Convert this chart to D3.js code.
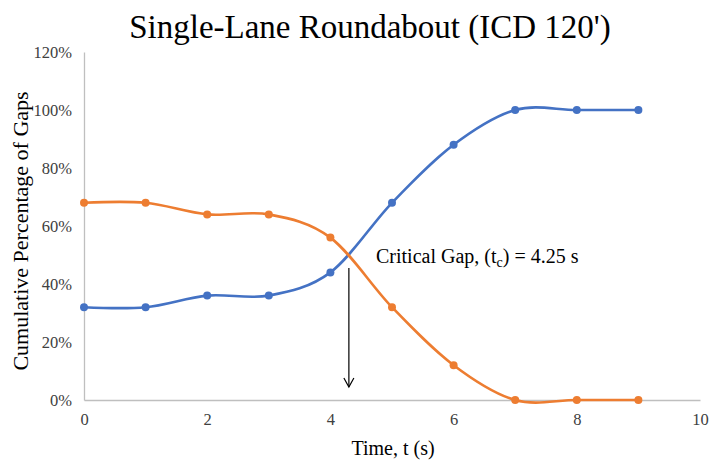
<!DOCTYPE html>
<html><head><meta charset="utf-8">
<script src="https://cdn.jsdelivr.net/npm/d3@7"></script>
<style>body{margin:0;background:#fff}svg{display:block}</style>
</head><body>
<svg id="c" width="711" height="464"></svg>
<script>
const times = [0,1,2,3,4,5,6,7,8,9];
const accepted = [32,32,36,36,44,68,88,100,100,100];
const rejected = [68,68,64,64,56,32,12,0,0,0];
const xTicks = [0,2,4,6,8,10];
const yTicks = [0,20,40,60,80,100,120];
const criticalGap = 4.3;

const svg = d3.select("#c");
const font = "'Liberation Serif','Times New Roman',serif";
const m = {l:84, r:11, t:52, b:64};
const W = 711, H = 464;
const x = d3.scaleLinear().domain([0,10]).range([m.l, W-m.r]);
const y = d3.scaleLinear().domain([0,120]).range([H-m.b, m.t]);

svg.append("text").attr("x",370).attr("y",38).attr("text-anchor","middle")
  .style("font-family",font).style("font-size","33px").attr("fill","#000")
  .text("Single-Lane Roundabout (ICD 120')");

const xa = svg.append("g").attr("transform",`translate(0,${y(0)})`)
  .call(d3.axisBottom(x).tickValues(xTicks).tickSize(0).tickPadding(13).tickFormat(d3.format("d")));
const ya = svg.append("g").attr("transform",`translate(${m.l},0)`)
  .call(d3.axisLeft(y).tickValues(yTicks).tickSize(0).tickPadding(12).tickFormat(d=>d+"%"));
[xa,ya].forEach(a=>{
  a.select(".domain").attr("stroke","#bfbfbf").attr("stroke-width",1.3);
  a.selectAll("text").style("font-family",font).style("font-size","16.5px").attr("fill","#404040");
});

svg.append("text").attr("x",393).attr("y",455).attr("text-anchor","middle")
  .style("font-family",font).style("font-size","20px").attr("fill","#000").text("Time, t (s)");
svg.append("text").attr("transform",`translate(28,231) rotate(-90)`).attr("text-anchor","middle")
  .style("font-family",font).style("font-size","22px").attr("fill","#000").text("Cumulative Percentage of Gaps");

const line = d3.line().x((d,i)=>x(times[i])).y(d=>y(d)).curve(d3.curveCardinal.tension(0));
[[accepted,"#4472C4"],[rejected,"#ED7D31"]].forEach(([s,c])=>{
  svg.append("path").datum(s).attr("d",line).attr("fill","none").attr("stroke",c).attr("stroke-width",2.6);
  svg.selectAll(null).data(s).enter().append("circle")
    .attr("cx",(d,i)=>x(times[i])).attr("cy",d=>y(d)).attr("r",4).attr("fill",c);
});

// annotation arrow
const ax = x(criticalGap);
svg.append("line").attr("x1",ax).attr("x2",ax).attr("y1",y(45.5)).attr("y2",y(4.5))
  .attr("stroke","#000").attr("stroke-width",1.2);
svg.append("path").attr("d",`M${ax-5},${y(4.5)-9} L${ax},${y(4.5)} L${ax+5},${y(4.5)-9}`)
  .attr("fill","none").attr("stroke","#000").attr("stroke-width",1.2);
const t = svg.append("text").attr("x",376).attr("y",263)
  .style("font-family",font).style("font-size","20px").attr("fill","#000");
t.append("tspan").text("Critical Gap, (t");
t.append("tspan").attr("dy",4).style("font-size","14px").text("c");
t.append("tspan").attr("dy",-4).text(") = 4.25 s");
</script>
</body></html>
